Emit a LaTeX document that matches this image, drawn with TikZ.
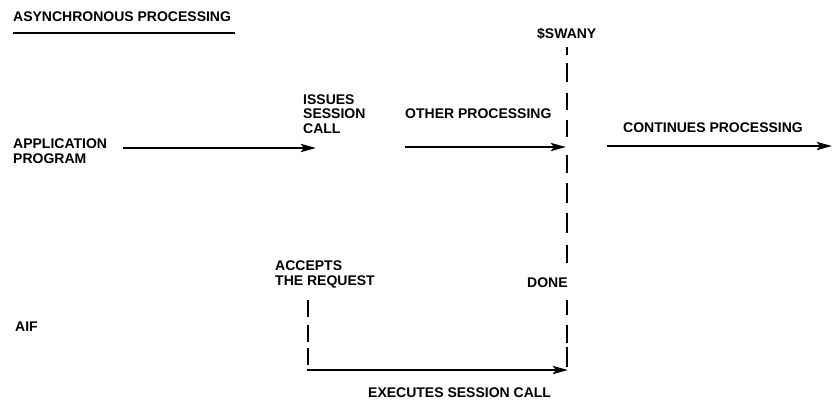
\documentclass[tikz,border=0pt]{standalone}
\usepackage{fontspec}
\setmainfont{Liberation Sans}
\usetikzlibrary{arrows.meta}
\begin{document}
\begin{tikzpicture}[x=1pt,y=-1pt,
  lbl/.style={inner sep=0pt, anchor=base west, font=\fontsize{14}{14.5}\selectfont\bfseries, align=left},
  flow/.style={line width=2.8pt, -{Stealth[length=15pt,width=8pt,inset=3pt]}},
  rule/.style={line width=2.8pt},
  dashtop/.style={line width=2.8pt, dash pattern=on 8pt off 8pt on 19pt off 11pt on 17pt off 10pt on 17pt off 18pt on 18pt off 10pt on 20pt off 10pt on 20pt off 12pt on 18pt off 100pt},
  dashlowr/.style={line width=2.8pt, dash pattern=on 15pt off 10pt on 18pt off 4pt on 20pt off 50pt},
  dashlowl/.style={line width=2.8pt, dash pattern=on 17pt off 8pt on 17pt off 6pt on 17pt off 50pt}]
\useasboundingbox (0,0) rectangle (832,400);
\node[lbl] (title) at (13,21) {ASYNCHRONOUS PROCESSING};
\coordinate (ul1) at (13,33);
\coordinate (ul2) at (235,33);
\draw[rule] (ul1) -- (ul2);
\node[lbl] (app) at (13,163) {APPLICATION\\PROGRAM};
\coordinate (a1s) at (123,148);
\coordinate (a1e) at (316,148);
\node[lbl] (issues) at (303,133) {ISSUES\\SESSION\\CALL};
\node[lbl] (other) at (405,118) {OTHER PROCESSING};
\coordinate (a2s) at (405,147);
\coordinate (a2e) at (566,147);
\node[lbl] (swany) at (537,38) {\$SWANY};
\coordinate (d1) at (567,47);
\coordinate (d2) at (567,263);
\node[lbl] (cont) at (623,132) {CONTINUES PROCESSING};
\coordinate (a3s) at (607,146);
\coordinate (a3e) at (832,146);
\node[lbl] (acc) at (275,285) {ACCEPTS\\THE REQUEST};
\node[lbl] (done) at (527,287) {DONE};
\node[lbl] (aif) at (15,331) {AIF};
\coordinate (l1) at (308,300);
\coordinate (l2) at (308,367);
\coordinate (d3) at (567,300);
\coordinate (d4) at (567,367);
\coordinate (a4s) at (307,370);
\coordinate (a4e) at (568,370);
\node[lbl] (exec) at (368,397) {EXECUTES SESSION CALL};
\draw[flow] (a1s) -- (a1e);
\draw[flow] (a2s) -- (a2e);
\draw[flow] (a3s) -- (a3e);
\draw[flow] (a4s) -- (a4e);
\draw[dashtop] (d1) -- (d2);
\draw[dashlowr] (d3) -- (d4);
\draw[dashlowl] (l1) -- (l2);
\end{tikzpicture}
\end{document}
